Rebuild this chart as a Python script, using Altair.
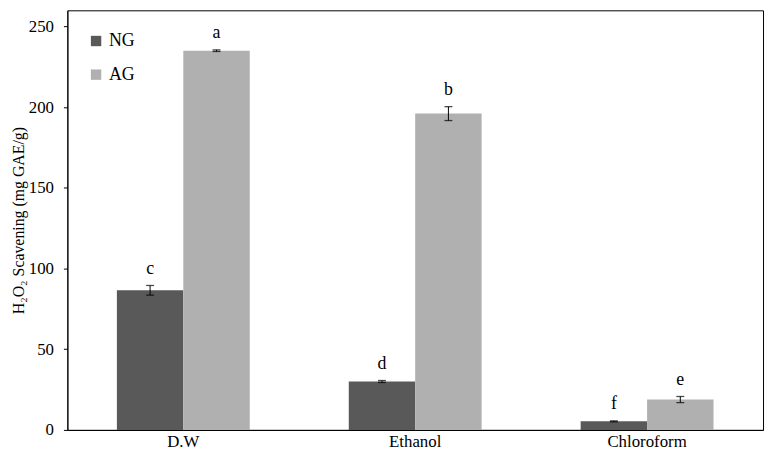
import altair as alt
import pandas as pd

solvents = ["D.W", "D.W", "Ethanol", "Ethanol", "Chloroform", "Chloroform"]
groups = ["NG", "AG", "NG", "AG", "NG", "AG"]
values = [86.5, 235.0, 30.0, 196.0, 5.3, 18.8]
errors = [3.0, 0.5, 0.6, 4.3, 0.3, 1.9]
letters = ["c", "a", "d", "b", "f", "e"]

df = pd.DataFrame({"solvent": solvents, "group": groups, "value": values,
                   "err": errors, "letter": letters})
df["lo"] = df["value"] - df["err"]
df["hi"] = df["value"] + df["err"]

FONT = "Liberation Serif"
order = ["D.W", "Ethanol", "Chloroform"]
gorder = ["NG", "AG"]

x = alt.X("solvent:N", sort=order, title=None,
          scale=alt.Scale(paddingInner=0.427, paddingOuter=0.2135),
          axis=alt.Axis(labelAngle=0, labelFont=FONT, labelFontSize=17, labelColor="black",
                        labelPadding=4, ticks=False, domainColor="black",
                        labelBaseline="top"))
xo = alt.XOffset("group:N", sort=gorder, scale=alt.Scale(paddingInner=0, paddingOuter=0))

bars = alt.Chart(df).mark_bar(stroke=None).encode(
    x=x, xOffset=xo,
    y=alt.Y("value:Q", title="H₂O₂ Scavening (mg GAE/g)",
            scale=alt.Scale(domain=[0, 250]),
            axis=alt.Axis(values=[0, 50, 100, 150, 200, 250], grid=False,
                          labelFont=FONT, labelFontSize=17, labelColor="black",
                          titleFont=FONT, titleFontSize=16, titleFontWeight="normal",
                          titleColor="black", titlePadding=2, tickSize=4,
                          tickColor="black", domainColor="black", labelPadding=10)),
    color=alt.Color("group:N", sort=gorder,
                    scale=alt.Scale(domain=gorder, range=["#595959", "#b0b0b0"]),
                    legend=alt.Legend(title=None, orient="none", legendX=20, legendY=22,
                                      symbolType="square", symbolSize=110,
                                      symbolStrokeWidth=0, labelFont=FONT,
                                      labelFontSize=18, labelColor="black",
                                      rowPadding=16, labelOffset=4)),
)

rules = alt.Chart(df).mark_rule(color="black", strokeWidth=1).encode(
    x=x, xOffset=xo, y="lo:Q", y2="hi:Q")
caps_lo = alt.Chart(df).mark_tick(color="black", thickness=1.3, size=8, orient="horizontal").encode(
    x=x, xOffset=xo, y="lo:Q")
caps_hi = alt.Chart(df).mark_tick(color="black", thickness=1.3, size=8, orient="horizontal").encode(
    x=x, xOffset=xo, y="hi:Q")
labels = alt.Chart(df).mark_text(font=FONT, fontSize=18, color="black", baseline="bottom", dy=-8).encode(
    x=x, xOffset=xo, y="hi:Q", text="letter:N")

chart = alt.layer(bars, rules, caps_lo, caps_hi, labels).properties(
    width=703, height=424,
    autosize=alt.AutoSizeParams(type="none"),
    padding={"left": 60, "top": 0, "right": 3, "bottom": 22},
).configure_view(stroke="black", strokeWidth=1).configure_axis(domainWidth=1)

chart.save("out.html", embed_options={"renderer": "svg", "actions": False})
